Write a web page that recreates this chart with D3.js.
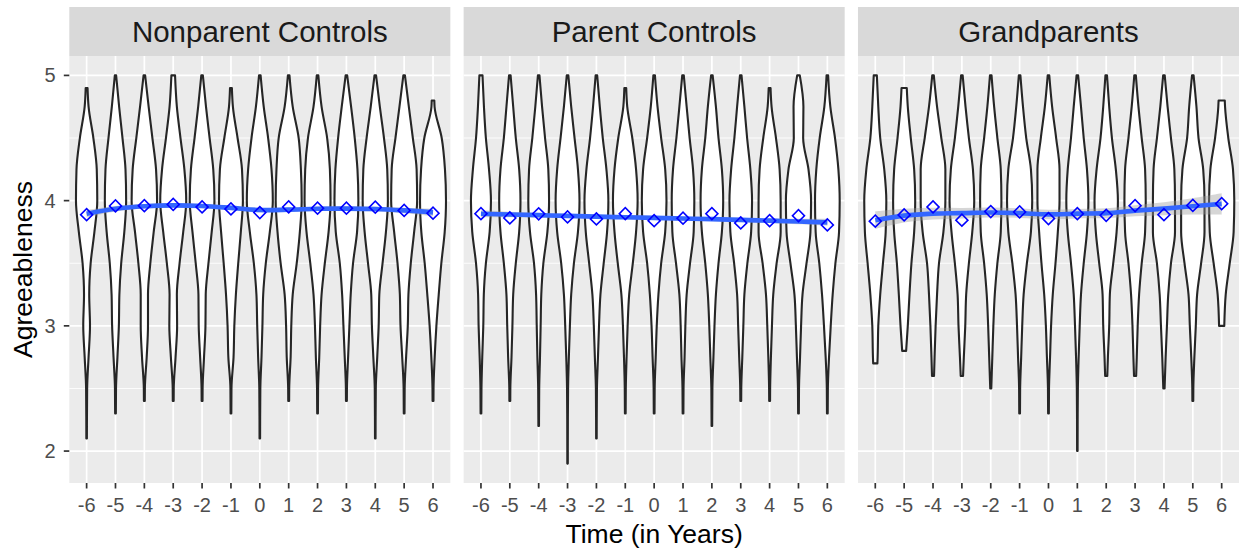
<!DOCTYPE html>
<html><head><meta charset="utf-8">
<script src="https://cdn.jsdelivr.net/npm/d3@7"></script>
<style>body{margin:0;background:#fff}text{font-family:"Liberation Sans",Arial,Helvetica,sans-serif}</style>
</head><body><svg id="chart" width="1239" height="552"></svg>
<script>
// ---------------- data ----------------
const panelTitles = ["Nonparent Controls", "Parent Controls", "Grandparents"];
const times = [-6, -5, -4, -3, -2, -1, 0, 1, 2, 3, 4, 5, 6];
const yTicks = [2, 3, 4, 5];
const yMinorTicks = [2.5, 3.5, 4.5];
const xTitle = "Time (in Years)";
const yTitle = "Agreeableness";

// density levels (agreeableness values) at which violin widths were read
const levels = [2.0, 2.25, 2.5, 2.75, 3.0, 3.25, 3.5, 3.75, 4.0, 4.25, 4.5, 4.75, 5.0];

// violin extents
const topNonparent = [4.9, 5, 5, 5, 5, 4.9, 5, 5, 5, 5, 5, 5, 4.8];
const bottomNonparent = [2.1, 2.3, 2.4, 2.4, 2.4, 2.3, 2.1, 2.4, 2.3, 2.4, 2.1, 2.3, 2.4];
const topParent = [5, 5, 5, 5, 5, 4.9, 5, 5, 5, 5, 4.9, 5, 5];
const bottomParent = [2.3, 2.4, 2.2, 1.9, 2.1, 2.3, 2.3, 2.3, 2.2, 2.4, 2.4, 2.3, 2.3];
const topGrand = [5, 4.9, 5, 5, 5, 5, 5, 5, 5, 5, 5, 5, 4.8];
const bottomGrand = [2.7, 2.8, 2.6, 2.6, 2.5, 2.3, 2.3, 2.0, 2.6, 2.6, 2.5, 2.4, 3.0];

// relative densities (1 = widest) at each level, one row per time point
const densNonparent = [
  [.02,.025,.04,.15,.26,.20,.31,.60,.82,.78,.52,.15,.02],
  [.02,.025,.04,.15,.26,.30,.44,.68,.82,.77,.54,.28,.05],
  [.02,.025,.04,.18,.28,.28,.46,.72,.98,.90,.62,.33,.06],
  [.02,.025,.04,.18,.30,.28,.49,.77,1.0,.86,.56,.28,.14],
  [.02,.025,.04,.15,.26,.28,.49,.74,.95,.86,.58,.30,.06],
  [.02,.025,.04,.20,.26,.38,.56,.76,.92,.85,.51,.15,.02],
  [.02,.025,.04,.13,.20,.26,.46,.77,1.0,.90,.64,.30,.06],
  [.02,.025,.04,.15,.20,.31,.62,.86,1.0,.94,.77,.31,.06],
  [.02,.025,.04,.13,.20,.31,.56,.85,1.0,.95,.74,.31,.06],
  [.02,.025,.04,.13,.23,.33,.51,.82,.92,.85,.64,.36,.06],
  [.02,.025,.04,.15,.26,.31,.56,.82,.97,.92,.67,.35,.06],
  [.02,.025,.04,.15,.28,.33,.51,.77,1.0,.96,.67,.36,.06],
  [.02,.025,.04,.13,.26,.44,.64,.90,1.0,.92,.67,.12,.02]
];
const densParent = [
  [.02,.025,.04,.10,.18,.22,.38,.67,.77,.62,.38,.23,.12],
  [.02,.025,.04,.13,.20,.26,.46,.72,.82,.72,.46,.26,.06],
  [.02,.025,.04,.10,.15,.20,.36,.67,.80,.74,.49,.26,.06],
  [.02,.025,.04,.10,.18,.28,.49,.80,.92,.80,.54,.28,.06],
  [.02,.025,.04,.12,.20,.31,.56,.82,.92,.77,.49,.26,.06],
  [.02,.025,.04,.10,.18,.30,.58,.83,.95,.83,.54,.15,.02],
  [.02,.025,.04,.12,.20,.33,.54,.85,.95,.85,.54,.26,.06],
  [.02,.025,.04,.12,.18,.28,.54,.82,.87,.77,.51,.28,.06],
  [.02,.025,.04,.12,.20,.31,.51,.77,.87,.77,.51,.31,.06],
  [.02,.025,.04,.12,.20,.28,.51,.80,.87,.74,.49,.28,.06],
  [.02,.025,.04,.10,.18,.28,.54,.85,.85,.77,.49,.15,.02],
  [.02,.025,.04,.12,.20,.31,.62,.92,.97,.77,.36,.38,.10],
  [.02,.025,.04,.13,.26,.41,.62,.90,.95,.85,.59,.23,.06]
];
const densGrand = [
  [.05,.06,.09,.18,.23,.38,.59,.80,.85,.69,.38,.23,.12],
  [.05,.06,.09,.12,.28,.41,.56,.77,.85,.77,.51,.28,.15],
  [.02,.025,.05,.12,.20,.31,.46,.80,.95,.95,.64,.31,.06],
  [.02,.025,.05,.15,.26,.33,.54,.80,.95,.85,.54,.28,.06],
  [.02,.025,.04,.12,.20,.31,.51,.77,.82,.77,.51,.26,.06],
  [.02,.025,.04,.12,.20,.31,.56,.87,.97,.87,.51,.26,.06],
  [.02,.025,.04,.12,.20,.33,.54,.72,.85,.85,.59,.28,.06],
  [.02,.025,.04,.10,.18,.28,.49,.74,.85,.74,.49,.28,.06],
  [.02,.025,.05,.13,.23,.28,.54,.80,.90,.74,.44,.23,.06],
  [.02,.025,.05,.13,.20,.31,.51,.77,.82,.77,.51,.26,.06],
  [.02,.025,.05,.13,.23,.33,.54,.85,.85,.80,.54,.28,.06],
  [.02,.025,.04,.12,.23,.33,.64,.90,.90,.80,.44,.28,.06],
  [.02,.025,.04,.10,.20,.31,.62,.92,.97,.87,.51,.26,.15]
];

// means per time point (blue diamonds)
const meanNonparent = [3.888, 3.958, 3.96, 3.97, 3.95, 3.934, 3.905, 3.95, 3.94, 3.94, 3.948, 3.922, 3.90];
const meanParent = [3.896, 3.862, 3.895, 3.87, 3.854, 3.896, 3.84, 3.86, 3.896, 3.822, 3.84, 3.88, 3.806];
const meanGrand = [3.836, 3.886, 3.95, 3.844, 3.913, 3.91, 3.857, 3.896, 3.883, 3.96, 3.888, 3.962, 3.976];

// smoothed fit and its standard-error half width
const fitNonparent = [3.895, 3.935, 3.955, 3.962, 3.957, 3.942, 3.925, 3.928, 3.935, 3.936, 3.933, 3.922, 3.906];
const seNonparent = [0.03, 0.022, 0.018, 0.017, 0.017, 0.017, 0.017, 0.017, 0.017, 0.017, 0.018, 0.022, 0.03];
const fitParent = [3.895, 3.889, 3.884, 3.878, 3.872, 3.867, 3.862, 3.857, 3.852, 3.846, 3.840, 3.833, 3.826];
const seParent = [0.028, 0.022, 0.018, 0.016, 0.015, 0.015, 0.015, 0.015, 0.015, 0.016, 0.018, 0.022, 0.028];
const fitGrand = [3.844, 3.88, 3.896, 3.90, 3.905, 3.90, 3.89, 3.896, 3.90, 3.92, 3.936, 3.955, 3.974];
const seGrand = [0.07, 0.055, 0.047, 0.042, 0.04, 0.038, 0.038, 0.038, 0.04, 0.044, 0.052, 0.065, 0.085];

const panels = [
  {title: panelTitles[0], top: topNonparent, bottom: bottomNonparent, dens: densNonparent, mean: meanNonparent, fit: fitNonparent, se: seNonparent},
  {title: panelTitles[1], top: topParent, bottom: bottomParent, dens: densParent, mean: meanParent, fit: fitParent, se: seParent},
  {title: panelTitles[2], top: topGrand, bottom: bottomGrand, dens: densGrand, mean: meanGrand, fit: fitGrand, se: seGrand}
];

// ---------------- layout ----------------
const W = 1239, H = 552;
const plotLeft = 69.3, plotRight = 1239, gap = 13.3;
const panelW = (plotRight - plotLeft - 2 * gap) / 3;
const stripTop = 7, plotTop = 56, plotBottom = 483;

const svg = d3.select("#chart");
svg.append("rect").attr("width", W).attr("height", H).attr("fill", "#fff");

const y = d3.scaleLinear().domain([1.745, 5.155]).range([plotBottom, plotTop]);
const dW = d3.scaleLinear().domain([0, 1]).range([0, 0.45]);

function interpDens(row, v) {
  if (v <= levels[0]) return row[0];
  if (v >= levels[levels.length - 1]) return row[row.length - 1];
  for (let i = 0; i < levels.length - 1; i++) {
    if (v >= levels[i] && v <= levels[i + 1]) {
      const t = (v - levels[i]) / (levels[i + 1] - levels[i]);
      return row[i] + (row[i + 1] - row[i]) * t;
    }
  }
  return 0;
}

panels.forEach((p, pi) => {
  const x0 = plotLeft + pi * (panelW + gap);
  const x = d3.scaleLinear().domain([-6.6, 6.6]).range([x0, x0 + panelW]);
  const g = svg.append("g");

  g.append("rect").attr("x", x0).attr("y", plotTop).attr("width", panelW)
    .attr("height", plotBottom - plotTop).attr("fill", "#EBEBEB");

  g.selectAll(".ymin").data(yMinorTicks).join("line")
    .attr("x1", x0).attr("x2", x0 + panelW)
    .attr("y1", d => y(d)).attr("y2", d => y(d))
    .attr("stroke", "#fff").attr("stroke-width", 0.9);
  g.selectAll(".ymaj").data(yTicks).join("line")
    .attr("x1", x0).attr("x2", x0 + panelW)
    .attr("y1", d => y(d)).attr("y2", d => y(d))
    .attr("stroke", "#fff").attr("stroke-width", 1.7);
  g.selectAll(".xmaj").data(times).join("line")
    .attr("x1", d => x(d)).attr("x2", d => x(d))
    .attr("y1", plotTop).attr("y2", plotBottom)
    .attr("stroke", "#fff").attr("stroke-width", 1.7);

  g.append("rect").attr("x", x0).attr("y", stripTop).attr("width", panelW)
    .attr("height", plotTop - stripTop).attr("fill", "#D9D9D9");
  g.append("text").attr("x", x0 + panelW / 2).attr("y", 42.3)
    .attr("text-anchor", "middle").attr("font-size", 29.5).attr("fill", "#1A1A1A")
    .text(p.title);

  times.forEach((t, i) => {
    const row = p.dens[i];
    const bot = p.bottom[i], tp = p.top[i];
    const pts = [{v: bot, d: interpDens(row, bot)}];
    levels.forEach((l, k) => { if (l > bot + 1e-6 && l < tp - 1e-6) pts.push({v: l, d: row[k]}); });
    pts.push({v: tp, d: interpDens(row, tp)});
    const area = d3.area()
      .y(d => y(d.v))
      .x0(d => x(t - dW(d.d)))
      .x1(d => x(t + dW(d.d)))
      .curve(d3.curveMonotoneY);
    g.append("path").attr("d", area(pts))
      .attr("fill", "#fff").attr("stroke", "#262626").attr("stroke-width", 2.1)
      .attr("stroke-linejoin", "round");
  });

  const ribbon = d3.area()
    .x((d, i) => x(times[i]))
    .y0((d, i) => y(p.fit[i] - p.se[i]))
    .y1((d, i) => y(p.fit[i] + p.se[i]))
    .curve(d3.curveCatmullRom);
  g.append("path").attr("d", ribbon(p.fit)).attr("fill", "#999999").attr("fill-opacity", 0.4);

  const line = d3.line().x((d, i) => x(times[i])).y(d => y(d)).curve(d3.curveCatmullRom);
  g.append("path").attr("d", line(p.fit)).attr("fill", "none")
    .attr("stroke", "#3366FF").attr("stroke-width", 4.6);

  const sym = d3.symbol().type(d3.symbolSquare).size(72);
  g.selectAll(".mean").data(p.mean).join("path")
    .attr("d", sym())
    .attr("transform", (d, i) => `translate(${x(times[i])},${y(d)}) rotate(45)`)
    .attr("fill", "none").attr("stroke", "#0000FF").attr("stroke-width", 1.6);

  g.selectAll(".xt").data(times).join("line")
    .attr("x1", d => x(d)).attr("x2", d => x(d))
    .attr("y1", plotBottom).attr("y2", plotBottom + 5.5)
    .attr("stroke", "#333").attr("stroke-width", 1.7);
  g.selectAll(".xl").data(times).join("text")
    .attr("x", d => x(d)).attr("y", 511.5)
    .attr("text-anchor", "middle").attr("font-size", 20).attr("fill", "#4D4D4D")
    .text(d => d);
});

const ya = svg.append("g");
ya.selectAll("line").data(yTicks).join("line")
  .attr("x1", plotLeft - 5.5).attr("x2", plotLeft)
  .attr("y1", d => y(d)).attr("y2", d => y(d))
  .attr("stroke", "#333").attr("stroke-width", 1.7);
ya.selectAll("text").data(yTicks).join("text")
  .attr("x", 55.5).attr("y", d => y(d) + 7)
  .attr("text-anchor", "end").attr("font-size", 20).attr("fill", "#4D4D4D")
  .text(d => d);

svg.append("text").attr("x", plotLeft + panelW * 1.5 + gap).attr("y", 543)
  .attr("text-anchor", "middle").attr("font-size", 26.5).attr("fill", "#000").text(xTitle);
svg.append("text").attr("transform", `translate(32,${(plotTop + plotBottom) / 2}) rotate(-90)`)
  .attr("text-anchor", "middle").attr("font-size", 26.5).attr("fill", "#000").text(yTitle);
</script>
</body></html>
